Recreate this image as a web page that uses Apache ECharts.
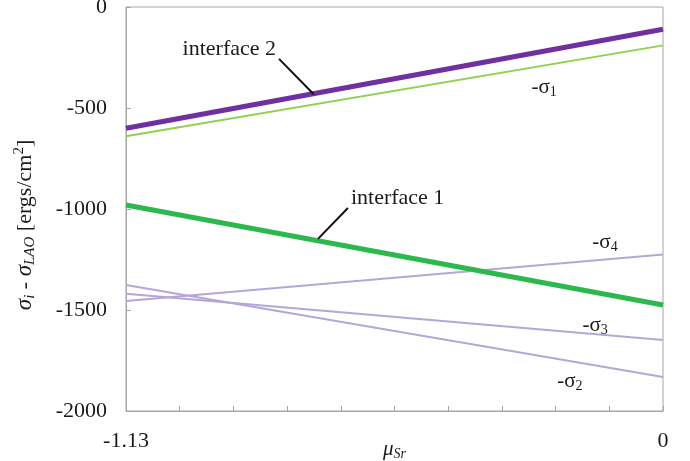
<!DOCTYPE html>
<html>
<head>
<meta charset="utf-8">
<script src="https://cdn.jsdelivr.net/npm/echarts@6/dist/echarts.min.js"></script>
<style>
  html, body { margin: 0; padding: 0; background: #fff; }
  #chart { width: 690px; height: 461px; }
</style>
</head>
<body>
<div id="chart"></div>
<script>
// x range (mu_Sr) and end values of each straight line
var xEnds = [-1.13, 0];
var interface2 = [-600, -110];
var sigma1 = [-640, -190];
var interface1 = [-980, -1475];
var sigma4 = [-1455, -1225];
var sigma3 = [-1420, -1648];
var sigma2 = [-1376, -1832];
var yTicks = [0, -500, -1000, -1500, -2000];

// annotation anchors, in data units
var leader2 = [[-0.808, -257], [-0.735, -432]];
var leader1 = [[-0.663, -995], [-0.726, -1148]];
var sigmaLabels = [
  { name: '1', at: [-0.250, -400] },
  { name: '4', at: [-0.122, -1165] },
  { name: '3', at: [-0.143, -1578] },
  { name: '2', at: [-0.196, -1854] }
];

function pairs(ys) {
  return xEnds.map(function (x, i) { return [x, ys[i]]; });
}

var font = 'Liberation Serif';
var ink = '#1a1a1a';
var axisGrey = '#a6a6a6';
var chart = echarts.init(document.getElementById('chart'));

function lineSeries(name, ys, color, width) {
  return {
    name: name, type: 'line', data: pairs(ys), symbol: 'none',
    lineStyle: { color: color, width: width }, z: width > 3 ? 4 : 3,
    silent: true
  };
}

function leaderSeries(pts, text, pos) {
  return {
    type: 'line', data: pts, symbol: 'none', silent: true, z: 5,
    lineStyle: { color: '#111', width: 2 },
    markPoint: {
      symbol: 'circle', symbolSize: 0,
      data: [{ coord: pts[0], value: text }],
      label: {
        show: true, position: pos, distance: 3, offset: [0, -10], formatter: text,
        fontFamily: font, fontSize: 22, color: ink
      }
    }
  };
}

var sigmaSeries = {
  type: 'scatter', data: [], silent: true,
  markPoint: {
    symbol: 'circle', symbolSize: 0,
    data: sigmaLabels.map(function (s) {
      return { coord: s.at, value: s.name };
    }),
    label: {
      show: true, position: 'inside',
      formatter: function (p) { return '{a|-σ}{b|' + p.value + '}'; },
      rich: {
        a: { fontFamily: font, fontSize: 21, color: ink },
        b: { fontFamily: font, fontSize: 14, color: ink, verticalAlign: 'bottom', padding: [9, 0, 0, 0] }
      }
    }
  }
};

chart.setOption({
  animation: false,
  grid: {
    left: 126, right: 27, top: 7, bottom: 50,
    outerBoundsMode: 'none', containLabel: false,
    show: true, borderColor: axisGrey, borderWidth: 1
  },
  xAxis: {
    type: 'value', min: xEnds[0], max: xEnds[1], interval: 0.113,
    name: '{i|μ}{s|Sr}', nameLocation: 'middle', nameGap: 26, nameMoveOverlap: false,
    nameTextStyle: {
      rich: {
        i: { fontFamily: font, fontStyle: 'italic', fontSize: 21, color: ink },
        s: { fontFamily: font, fontStyle: 'italic', fontSize: 14, color: ink, verticalAlign: 'bottom', padding: [10, 0, 0, 0] }
      }
    },
    axisLine: { onZero: false, lineStyle: { color: axisGrey } },
    axisTick: { inside: true, length: 5, lineStyle: { color: axisGrey } },
    splitLine: { show: false },
    axisLabel: {
      fontFamily: font, fontSize: 22, color: ink, margin: 19,
      showMinLabel: true, showMaxLabel: true,
      formatter: function (v) {
        if (Math.abs(v - xEnds[0]) < 1e-6) return '-1.13';
        if (Math.abs(v - xEnds[1]) < 1e-6) return '0';
        return '';
      }
    }
  },
  yAxis: {
    type: 'value', min: yTicks[yTicks.length - 1], max: yTicks[0], interval: 500,
    name: '{s|σ}{sub|i}{n| - }{s|σ}{sub|LAO}{n| [ergs/cm}{sup|2}{n|]}',
    nameLocation: 'middle', nameGap: 88, nameRotate: 90, nameMoveOverlap: false,
    nameTextStyle: {
      padding: [0, 32, 0, 0],
      rich: {
        s: { fontFamily: font, fontStyle: 'italic', fontSize: 23, color: ink },
        n: { fontFamily: font, fontSize: 22, color: ink },
        sub: { fontFamily: font, fontStyle: 'italic', fontSize: 15, color: ink, verticalAlign: 'bottom', padding: [11, 0, 0, 0] },
        sup: { fontFamily: font, fontSize: 15, color: ink, verticalAlign: 'top', padding: [0, 0, 9, 0] }
      }
    },
    axisLine: { show: true, onZero: false, lineStyle: { color: axisGrey } },
    axisTick: { show: true, inside: true, length: 5, lineStyle: { color: axisGrey } },
    splitLine: { show: false },
    axisLabel: {
      fontFamily: font, fontSize: 22, color: ink, margin: 19,
      formatter: function (v) { return String(v); }
    }
  },
  series: [
    lineSeries('-σ2', sigma2, '#b4a7d6', 2),
    lineSeries('-σ3', sigma3, '#b4a7d6', 2),
    lineSeries('-σ4', sigma4, '#b4a7d6', 2),
    lineSeries('-σ1', sigma1, '#92d050', 2),
    lineSeries('interface 1', interface1, '#2db84d', 5),
    lineSeries('interface 2', interface2, '#7030a0', 5),
    leaderSeries(leader2, 'interface 2', 'left'),
    leaderSeries(leader1, 'interface 1', 'right'),
    sigmaSeries
  ]
});
</script>
</body>
</html>
